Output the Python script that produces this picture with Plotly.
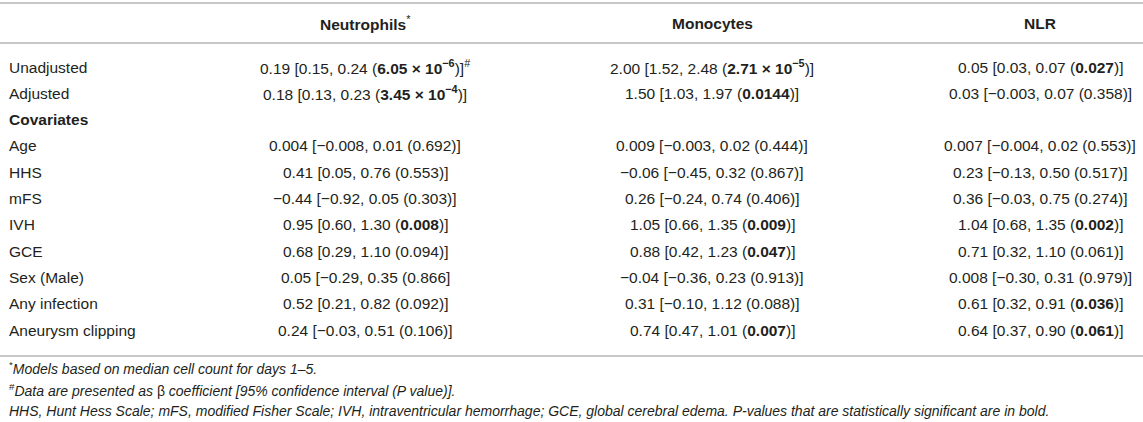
"""
Regression table: Neutrophils, Monocytes and NLR models,
drawn as text annotations on an empty Plotly figure.
"""

import plotly.graph_objs as go

# row labels
rows = ["Unadjusted", "Adjusted", "Covariates", "Age", "HHS", "mFS", "IVH",
        "GCE", "Sex (Male)", "Any infection", "Aneurysm clipping"]
header_rows = ["Covariates"]

columns = ["Neutrophils", "Monocytes", "NLR"]
column_marks = ["*", "", ""]

# beta [lower, upper (p)] for each column, "" for the Covariates heading row
neut_beta = ["0.19", "0.18", "", "0.004", "0.41", "−0.44", "0.95", "0.68", "0.05", "0.52", "0.24"]
neut_low = ["0.15", "0.13", "", "−0.008", "0.05", "−0.92", "0.60", "0.29", "−0.29", "0.21", "−0.03"]
neut_high = ["0.24", "0.23", "", "0.01", "0.76", "0.05", "1.30", "1.10", "0.35", "0.82", "0.51"]
neut_p = ["6.05 × 10<sup>−6</sup>", "3.45 × 10<sup>−4</sup>", "", "0.692", "0.553", "0.303",
          "0.008", "0.094", "0.866", "0.092", "0.106"]
neut_bold = [1, 1, 0, 0, 0, 0, 1, 0, 0, 0, 0]
neut_close = [")]<sup>#</sup>", ")]", "", ")]", ")]", ")]", ")]", ")]", "]", ")]", ")]"]

mono_beta = ["2.00", "1.50", "", "0.009", "−0.06", "0.26", "1.05", "0.88", "−0.04", "0.31", "0.74"]
mono_low = ["1.52", "1.03", "", "−0.003", "−0.45", "−0.24", "0.66", "0.42", "−0.36", "−0.10", "0.47"]
mono_high = ["2.48", "1.97", "", "0.02", "0.32", "0.74", "1.35", "1.23", "0.23", "1.12", "1.01"]
mono_p = ["2.71 × 10<sup>−5</sup>", "0.0144", "", "0.444", "0.867", "0.406",
          "0.009", "0.047", "0.913", "0.088", "0.007"]
mono_bold = [1, 1, 0, 0, 0, 0, 1, 1, 0, 0, 1]

nlr_beta = ["0.05", "0.03", "", "0.007", "0.23", "0.36", "1.04", "0.71", "0.008", "0.61", "0.64"]
nlr_low = ["0.03", "−0.003", "", "−0.004", "−0.13", "−0.03", "0.68", "0.32", "−0.30", "0.32", "0.37"]
nlr_high = ["0.07", "0.07", "", "0.02", "0.50", "0.75", "1.35", "1.10", "0.31", "0.91", "0.90"]
nlr_p = ["0.027", "0.358", "", "0.553", "0.517", "0.274", "0.002", "0.061", "0.979", "0.036", "0.061"]
nlr_bold = [1, 0, 0, 0, 0, 0, 1, 0, 0, 1, 1]

footnotes = [
    "<sup>*</sup><i>Models based on median cell count for days 1–5.</i>",
    "<sup>#</sup><i>Data are presented as </i>β<i> coefficient [95% confidence interval (P value)].</i>",
    "<i>HHS, Hunt Hess Scale; mFS, modified Fisher Scale; IVH, intraventricular hemorrhage; "
    "GCE, global cerebral edema. P-values that are statistically significant are in bold.</i>",
]

# page geometry in pixels
W, H = 1143, 422
col_x = [365, 712, 1040]
label_x = 7
header_y = 23
row_y0, row_dy = 67, 26.3
foot_y = [368, 390, 411]
text_color = "#231f20"
line_color = "#b4b4b4"
font_family = "Liberation Sans, Arial, Helvetica, sans-serif"
body_font = dict(family=font_family, size=15.5, color=text_color)
foot_font = dict(family=font_family, size=14, color=text_color)


def cell(beta, low, high, p, bold, close=")]"):
    if beta == "":
        return ""
    pv = "<b>" + p + "</b>" if bold else p
    return beta + " [" + low + ", " + high + " (" + pv + close


col_cells = [
    [cell(b, l, h, p, s, c) for b, l, h, p, s, c in
     zip(neut_beta, neut_low, neut_high, neut_p, neut_bold, neut_close)],
    [cell(b, l, h, p, s) for b, l, h, p, s in
     zip(mono_beta, mono_low, mono_high, mono_p, mono_bold)],
    [cell(b, l, h, p, s) for b, l, h, p, s in
     zip(nlr_beta, nlr_low, nlr_high, nlr_p, nlr_bold)],
]

annotations = []

# column headers
for name, mark, x in zip(columns, column_marks, col_x):
    txt = "<b>" + name + "</b>" + ("<sup>" + mark + "</sup>" if mark else "")
    annotations.append(dict(x=x, y=header_y, text=txt, xanchor="center", yanchor="middle",
                            font=body_font))

# body rows
for i, label in enumerate(rows):
    y = row_y0 + i * row_dy
    lab = "<b>" + label + "</b>" if label in header_rows else label
    annotations.append(dict(x=label_x, y=y, text=lab, xanchor="left", yanchor="middle",
                            font=body_font))
    for cells, x in zip(col_cells, col_x):
        if cells[i]:
            annotations.append(dict(x=x, y=y, text=cells[i], xanchor="center",
                                    yanchor="middle", font=body_font))

# footnotes
for txt, y in zip(footnotes, foot_y):
    annotations.append(dict(x=label_x, y=y, text=txt, xanchor="left", yanchor="middle",
                            font=foot_font))

for a in annotations:
    a.update(xref="x", yref="y", showarrow=False)

# horizontal rules of the table
rule_y = [3, 43, 356]
shapes = [dict(type="line", xref="x", yref="y", x0=0, x1=W, y0=y, y1=y,
               line=dict(color=line_color, width=1.6)) for y in rule_y]

layout = go.Layout(width=W, height=H,
                   margin=dict(l=0, r=0, t=0, b=0),
                   paper_bgcolor="white", plot_bgcolor="white",
                   font=body_font,
                   xaxis=dict(range=[0, W], visible=False, fixedrange=True),
                   yaxis=dict(range=[H, 0], visible=False, fixedrange=True),
                   annotations=annotations, shapes=shapes,
                   showlegend=False)

fig = go.Figure(layout=layout)
# page body margin off, so the figure sits at the window's top-left corner
fig.write_html("out.html", config={"displayModeBar": False},
               post_script="document.body.style.margin='0';document.body.style.overflow='hidden';")
